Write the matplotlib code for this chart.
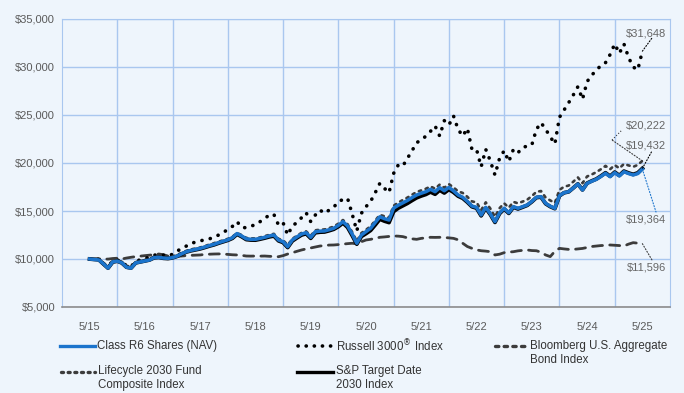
import matplotlib.pyplot as plt
from matplotlib.lines import Line2D
from matplotlib.patches import ConnectionPatch
import numpy as np

plt.rcParams['font.family'] = ['Liberation Sans', 'DejaVu Sans']

# month index 0 = 5/15 ... 120 = 5/25
months = np.arange(121)
year_labels = ['5/15', '5/16', '5/17', '5/18', '5/19', '5/20',
               '5/21', '5/22', '5/23', '5/24', '5/25']

class_r6 = [
    10000, 9950, 9900, 9500, 9050, 9700, 9790, 9600, 9150, 9050, 9600, 9700,
    9800, 9900, 10150, 10180, 10100, 10070, 10140, 10300, 10550, 10760, 10900, 11000,
    11110, 11250, 11400, 11530, 11700, 11850, 12000, 12220, 12650, 12400, 12100, 12050,
    12050, 12150, 12260, 12400, 12500, 11980, 11800, 11280, 11980, 12300, 12600, 12740,
    12260, 12840, 12900, 12920, 13050, 13200, 13500, 13890, 13440, 12600, 11640, 12500,
    12850, 13200, 13800, 14400, 14200, 14060, 15300, 15600, 15850, 16100, 16400, 16670,
    16850, 17010, 17260, 17010, 17430, 17110, 17460, 17100, 16670, 16430, 16000, 15520,
    15380, 14580, 15380, 14700, 13890, 14800, 15280, 14820, 15450, 15280, 15450, 15630,
    16000, 16430, 16490, 15800, 15500, 15280, 16600, 16910, 17010, 17400, 17810, 17190,
    17880, 18100, 18300, 18600, 18930, 18570, 18990, 18650, 19090, 18900, 18750, 18900,
    19364]

russell_3000 = [
    10000, 10050, 9950, 9500, 9200, 9800, 9900, 9700, 9300, 9200, 9800, 9900,
    10050, 10200, 10400, 10450, 10400, 10300, 10500, 10830, 11100, 11350, 11640, 11750,
    11900, 11980, 12100, 12260, 12500, 12740, 13100, 13400, 13890, 13300, 13250, 13440,
    13550, 13890, 14200, 14600, 14650, 13540, 13780, 12500, 13440, 13800, 14300, 14820,
    13890, 14580, 15100, 14760, 15100, 15400, 15970, 16200, 16320, 14690, 12920, 14760,
    15450, 16000, 16900, 17880, 17360, 16910, 18920, 19790, 19690, 20490, 21280, 22120,
    22400, 22800, 23300, 23860, 22810, 24410, 23960, 24900, 23500, 22810, 23610, 21420,
    21420, 19610, 21420, 20200, 18750, 20500, 21280, 20140, 21420, 21070, 21630, 21750,
    21880, 23510, 24200, 23510, 22740, 21980, 24760, 25520, 26280, 27080, 27950, 26630,
    28470, 29170, 29600, 30200, 30450, 31300, 32400, 31420, 32400, 31000, 30000, 29700,
    31648]

bloomberg_agg = [
    10000, 9980, 10020, 10000, 9990, 10050, 10080, 10000, 10100, 10180, 10250, 10300,
    10350, 10400, 10450, 10520, 10450, 10310, 10250, 10280, 10310, 10350, 10380, 10400,
    10420, 10480, 10500, 10520, 10530, 10520, 10480, 10440, 10420, 10380, 10310, 10300,
    10310, 10300, 10310, 10280, 10260, 10240, 10350, 10520, 10650, 10800, 10940, 11050,
    11150, 11250, 11350, 11400, 11450, 11460, 11500, 11550, 11600, 11640, 11580, 11800,
    11980, 12050, 12150, 12260, 12300, 12350, 12400, 12380, 12330, 12200, 12100, 12050,
    12150, 12200, 12260, 12250, 12260, 12240, 12200, 12150, 12000, 11640, 11300, 11110,
    10950, 10860, 10820, 10760, 10420, 10500, 10660, 10720, 10760, 10850, 10900, 10940,
    10880, 10860, 10700, 10420, 10250, 10800, 11110, 11050, 11000, 11000, 11050, 11100,
    11200, 11300, 11350, 11400, 11420, 11460, 11430, 11400, 11350, 11550, 11700, 11650,
    11596]

lifecycle_2030 = [
    10000, 10000, 9960, 9600, 9200, 9780, 9860, 9700, 9300, 9200, 9700, 9800,
    9900, 10000, 10250, 10300, 10250, 10200, 10280, 10430, 10650, 10850, 11000, 11100,
    11200, 11350, 11500, 11650, 11800, 11950, 12100, 12320, 12700, 12500, 12200, 12150,
    12150, 12250, 12380, 12520, 12620, 12100, 11950, 11450, 12100, 12420, 12720, 12880,
    12420, 12990, 13050, 13080, 13220, 13380, 13680, 14060, 13620, 12800, 11850, 12700,
    13050, 13400, 14000, 14600, 14450, 14300, 15550, 15880, 16150, 16400, 16700, 16980,
    17150, 17320, 17560, 17320, 17750, 17430, 17800, 17450, 17050, 16880, 16480, 16000,
    15900, 15100, 15900, 15250, 14400, 15300, 15800, 15350, 15950, 15800, 15980, 16180,
    16550, 17000, 17080, 16400, 16100, 15850, 17200, 17530, 17650, 18050, 18500, 17900,
    18600, 18800, 19050, 19350, 19700, 19350, 19780, 19450, 19900, 19750, 19600, 19800,
    20222]

sp_target_2030 = [
    10000, 9960, 9920, 9480, 9050, 9680, 9780, 9590, 9150, 9060, 9600, 9700,
    9800, 9900, 10130, 10170, 10080, 10050, 10120, 10280, 10520, 10730, 10860, 10960,
    11060, 11200, 11350, 11480, 11650, 11800, 11950, 12160, 12580, 12330, 12030, 11980,
    11970, 12070, 12180, 12310, 12400, 11900, 11720, 11200, 11880, 12200, 12500, 12640,
    12160, 12740, 12800, 12820, 12950, 13100, 13380, 13750, 13300, 12450, 11550, 12350,
    12650, 12980, 13550, 14150, 13950, 13800, 14950, 15300, 15550, 15800, 16100, 16380,
    16570, 16730, 16980, 16750, 17170, 16880, 17250, 16950, 16550, 16330, 15920, 15450,
    15300, 14500, 15300, 14630, 13820, 14730, 15210, 14760, 15390, 15220, 15400, 15590,
    15960, 16400, 16450, 15760, 15460, 15250, 16580, 16900, 17000, 17400, 17820, 17200,
    17900, 18130, 18330, 18640, 18980, 18620, 19050, 18700, 19150, 18960, 18810, 18970,
    19432]

BG = '#eef5fc'
GRID = '#a9c7ef'
BLUE = '#1b74cc'
DARK = '#3c3c3c'

fig = plt.figure(figsize=(6.84, 3.93), dpi=100, facecolor=BG)
W, H = 684, 393
ax = fig.add_axes([62 / W, 1 - 307 / H, (670 - 62) / W, (307 - 19) / H])
ax.set_facecolor(BG)

ax.plot(months, bloomberg_agg, color=DARK, lw=2.0, linestyle=(0, (3.6, 2.6)),
        dash_capstyle='round', zorder=2)
ax.plot(months, russell_3000, color='black', lw=2.6, linestyle=(0, (0.05, 2.3)),
        dash_capstyle='round', zorder=3)
ax.plot(months, lifecycle_2030, color=DARK, lw=1.9, linestyle=(0, (0.9, 1.8)),
        dash_capstyle='round', zorder=3)
ax.plot(months, sp_target_2030, color='black', lw=2.8, zorder=4)
ax.plot(months, class_r6, color=BLUE, lw=2.5, zorder=5)

ax.set_xlim(-6, 126)
ax.set_ylim(5000, 35000)
ax.set_xticks(months[::12])
ax.set_xticklabels(year_labels)
ax.set_xticks(months[6:120:12], minor=True)
ax.set_yticks(np.arange(5000, 35001, 5000))
ax.set_yticklabels(['${:,.0f}'.format(v) for v in np.arange(5000, 35001, 5000)])
ax.tick_params(which='both', length=0, colors='#5a5a5a', labelsize=8)
ax.tick_params(axis='x', pad=11)
ax.tick_params(axis='y', pad=5)
ax.grid(which='minor', axis='x', color=GRID, lw=1)
ax.grid(which='major', axis='y', color=GRID, lw=1)
ax.grid(which='major', axis='x', visible=False)
for s in ['left', 'right', 'top']:
    ax.spines[s].set_color(GRID)
ax.spines['bottom'].set_color('#8c8c8c')
ax.spines['bottom'].set_linewidth(1.2)

# overlay in pixel coords for legend and end labels
ov = fig.add_axes([0, 0, 1, 1], zorder=10)
ov.set_xlim(0, W)
ov.set_ylim(H, 0)
ov.axis('off')

LBL = '#666666'
ends = [
    ('$31,648', russell_3000[-1], 33, (652, 38), 'black'),
    ('$20,222', lifecycle_2030[-1], 126, (612, 140), DARK),
    ('$19,432', sp_target_2030[-1], 145, (652, 151), 'black'),
    ('$19,364', class_r6[-1], 220, (656, 212), BLUE),
    ('$11,596', bloomberg_agg[-1], 268, (652, 260), DARK),
]
for txt, val, ty, tip, col in ends:
    ov.text(666, ty, txt, ha='right', va='center', fontsize=8, color=LBL)
    cp = ConnectionPatch((months[-1], val), tip, coordsA=ax.transData,
                         coordsB=ov.transData, linestyle=':', lw=0.8, color=col)
    fig.add_artist(cp)
ov.plot([612, 622], [140, 130], linestyle=':', lw=0.8, color=DARK)

# legend
TXT = '#333333'
fs = 8.3
ov.add_line(Line2D([60, 95], [346, 346], color=BLUE, lw=2.4))
ov.text(97, 346, 'Class R6 Shares (NAV)', va='center', fontsize=fs, color=TXT)
ov.add_line(Line2D([298, 333], [346, 346], color='black', lw=2.6,
                   linestyle=(0, (0.05, 2.2)), dash_capstyle='round'))
ov.text(336, 346, 'Russell 3000$^{\\circledR}$ Index', va='center', fontsize=fs, color=TXT)
ov.add_line(Line2D([495, 526], [346, 346], color=DARK, lw=2.4,
                   linestyle=(0, (1.0, 1.6)), dash_capstyle='round'))
ov.text(530, 353, 'Bloomberg U.S. Aggregate\nBond Index', va='center', fontsize=fs,
        color=TXT, linespacing=1.25)
ov.add_line(Line2D([61, 95], [372, 372], color=DARK, lw=2.4,
                   linestyle=(0, (0.6, 1.4)), dash_capstyle='round'))
ov.text(98, 378, 'Lifecycle 2030 Fund\nComposite Index', va='center', fontsize=fs,
        color=TXT, linespacing=1.25)
ov.add_line(Line2D([297, 333], [372, 372], color='black', lw=2.4))
ov.text(336, 378, 'S&P Target Date\n2030 Index', va='center', fontsize=fs,
        color=TXT, linespacing=1.25)

fig.savefig('out.png', dpi=100, facecolor=BG)
